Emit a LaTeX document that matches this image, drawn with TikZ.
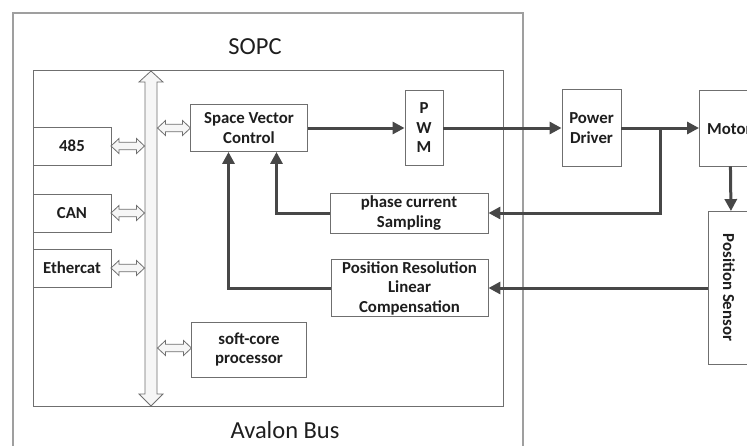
\documentclass[tikz,border=0pt]{standalone}
\usepackage{fontspec}
\setmainfont{Carlito}
\usetikzlibrary{arrows.meta}
\definecolor{boxgray}{HTML}{6F6F6F}
\definecolor{flowgray}{HTML}{474747}
\definecolor{txt}{HTML}{1E1E1E}
\tikzset{
  box/.style={draw=boxgray, line width=0.9pt, fill=white, inner sep=1pt, align=center,
    text=txt, font=\bfseries\fontsize{16.8}{19.5}\selectfont},
  flow/.style={draw=flowgray, line width=3pt, -{Triangle[length=12pt,width=12pt]}},
  hollowarrow/.style={draw=boxgray, line width=0.8pt, fill=gray!7, line join=miter},
  bigtext/.style={text=txt, font=\fontsize{24.5}{28}\selectfont}
}
% horizontal hollow double arrow: #1 left x, #2 right x, #3 y
\newcommand\linkarrowH[3]{%
  \filldraw[hollowarrow] (#1,#3) -- (#1+8,#3-7.5) -- (#1+8,#3-3.8) -- (#2-8,#3-3.8)
    -- (#2-8,#3-7.5) -- (#2,#3) -- (#2-8,#3+7.5) -- (#2-8,#3+3.8) -- (#1+8,#3+3.8)
    -- (#1+8,#3+7.5) -- cycle;}
\begin{document}
\begin{tikzpicture}[x=1pt,y=-1pt]
\useasboundingbox (0,0) rectangle (747,445);
\clip (0,0) rectangle (747,445);
% outer SOPC frame
\draw[draw=gray!75, line width=1.1pt] (13,460) -- (13,13) -- (523,13) -- (523,460);
\node[bigtext] (sopc) at (255,47) {SOPC};
% inner frame
\draw[draw=boxgray, line width=0.9pt] (33,70) rectangle (503,406);
\node[bigtext] (avalon) at (285,430) {Avalon Bus};
% bus
\filldraw[hollowarrow] (151,71) -- (163,82) -- (157,82) -- (157,394) -- (163,394) -- (151,406)
  -- (139,394) -- (145,394) -- (145,82) -- (139,82) -- cycle;
% left boxes
\node[box, minimum width=78pt, minimum height=38pt] (n485) at (72,146) {485};
\node[box, minimum width=78pt, minimum height=38pt] (can) at (72,213) {CAN};
\node[box, minimum width=78pt, minimum height=38pt] (eth) at (72,268) {Ethercat};
\linkarrowH{111}{144.5}{146}
\linkarrowH{111}{144.5}{213}
\linkarrowH{111}{144.5}{268}
% control boxes
\node[box, minimum width=117pt, minimum height=47pt] (svc) at (249,128) {Space Vector\\Control};
\node[box, minimum width=115pt, minimum height=55pt] (soft) at (249,349.5) {soft-core\\processor};
\linkarrowH{157.5}{190.5}{128}
\linkarrowH{157.5}{191.5}{348}
\node[box, minimum width=38pt, minimum height=75pt] (pwm) at (424,128) {P\\W\\M};
\node[box, minimum width=158pt, minimum height=40pt] (phase) at (409,213) {phase current\\Sampling};
\node[box, minimum width=157pt, minimum height=57pt] (posres) at (409.5,288) {Position Resolution\\Linear\\Compensation};
% outside
\node[box, minimum width=59pt, minimum height=77pt] (pd) at (591.5,128) {Power\\Driver};
\node[box, minimum width=71pt, minimum height=76pt, anchor=west] (motor) at (699,128) {};
\node[txt, font=\bfseries\fontsize{16.8}{19.5}\selectfont, anchor=west, inner sep=0pt] (motortext) at (707,129) {Motor};
\node[box, minimum width=62pt, minimum height=153pt, anchor=west] (possens) at (708,288) {};
\node[txt, font=\bfseries\fontsize{16.8}{19.5}\selectfont, rotate=-90, inner sep=0pt] (possenstext) at (729,287.5) {Position Sensor};
% flows
\coordinate (br) at (660,128);
\draw[flow] (svc.east) -- (pwm.west);
\draw[flow] (pwm.east) -- (pd.west);
\draw[flow] (pd.east) -- (motor.west);
\draw[flow] (br) |- (phase.east);
\draw[flow] ([xshift=-4.5pt]motor.south) -- ([xshift=-8.5pt]possens.north);
\draw[flow] (possens.west) -- (posres.east);
\draw[flow] (phase.west) -| ([xshift=27.5pt]svc.south);
\draw[flow] (posres.west) -| ([xshift=-20.5pt]svc.south);
\end{tikzpicture}
\end{document}
